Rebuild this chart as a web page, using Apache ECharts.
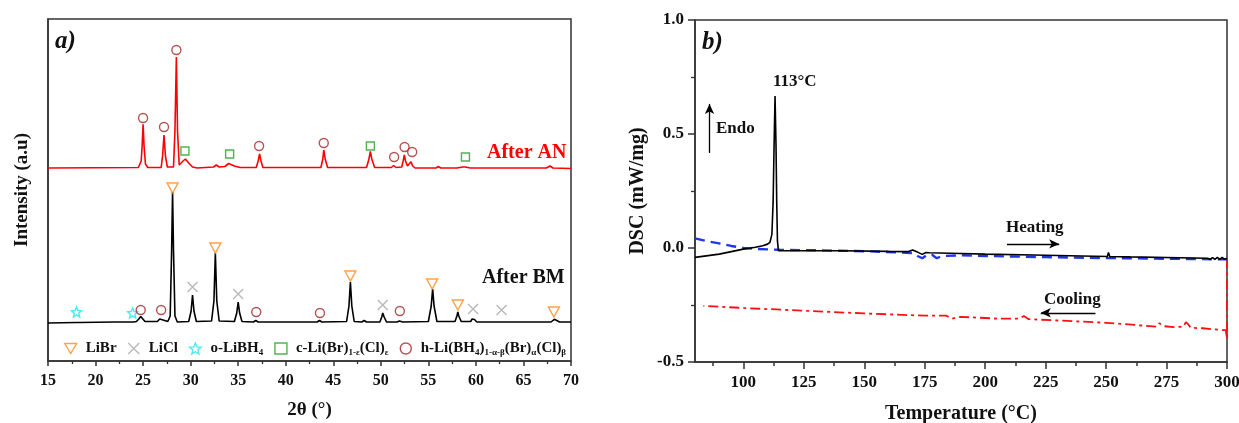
<!DOCTYPE html>
<html><head><meta charset="utf-8">
<script src="https://cdn.jsdelivr.net/npm/echarts@6/dist/echarts.min.js"></script>
<style>html,body{margin:0;padding:0;background:#fff}#c{width:1239px;height:423px}</style>
</head><body><div id="c"></div>
<script>
// ---------- Panel a: XRD (2θ, intensity a.u.) ----------
const xrdBM = [[15,38],[18,38.5],[18.1,39.5],[18.3,38.5],[22,39],[24,39],[24.1,40],[24.3,39.5],[24.55,42],[24.75,44.5],[24.9,43],[25.2,39.5],[26.5,39.5],[26.75,42],[26.9,42.5],[27.1,41],[27.6,39.5],[27.85,45],[28.0,110],[28.1,169],[28.2,110],[28.35,45],[28.6,39],[29.8,39.5],[30.05,50],[30.2,66],[30.35,50],[30.6,39.5],[32.2,40],[32.45,60],[32.6,108],[32.75,60],[33.0,40],[34.6,39.5],[34.85,48],[35.0,59],[35.15,48],[35.4,39.5],[36.6,39],[36.85,40.5],[37.1,39],[43.3,39],[43.55,40.5],[43.8,39],[46.4,39.5],[46.65,55],[46.8,79],[46.95,55],[47.2,39.5],[48.0,39],[48.25,40.5],[48.5,39],[49.9,39],[50.1,44],[50.2,48],[50.35,44],[50.6,39],[51.7,39],[51.95,40],[52.3,39],[55.0,39.5],[55.3,55],[55.45,72],[55.6,55],[55.9,39.5],[57.8,39.5],[58.0,45],[58.1,49],[58.2,45],[58.45,39.5],[59.45,39.5],[59.6,42],[59.7,43],[59.85,41.5],[60.1,39],[62.4,39],[62.6,40.5],[62.8,39],[67.9,39],[68.1,41],[68.25,41.7],[68.45,40],[68.8,39],[70,39]];
const xrdAN = [[15,193],[24.5,193.5],[24.8,200],[24.9,215],[25.0,236.7],[25.1,215],[25.25,197],[25.5,193.5],[26.9,193.5],[27.05,205],[27.2,226],[27.35,205],[27.55,194],[28.2,194],[28.35,230],[28.5,304],[28.62,230],[28.8,196],[29.0,196],[29.2,200],[29.45,202],[29.8,198],[30.2,194],[30.7,193],[32.4,194],[32.7,196],[33.0,194],[33.6,194.5],[34.0,197.5],[34.2,197.5],[34.6,195],[35.2,193.5],[36.9,193.5],[37.1,200],[37.25,207],[37.4,200],[37.6,193.5],[43.7,193.5],[43.9,202],[44.0,211],[44.15,202],[44.4,193.5],[48.5,193.5],[48.75,202],[48.9,209.5],[49.05,202],[49.35,193.5],[51.1,193.5],[51.35,195.5],[51.6,193.5],[52.2,194],[52.35,200],[52.47,206],[52.6,200],[52.8,195],[53.0,195],[53.17,199.3],[53.35,195],[53.6,193],[55.8,193],[56.05,194.5],[56.3,193],[58.0,193],[58.6,194],[58.9,194],[59.4,193],[67.4,193],[67.8,195],[68.1,193],[70,192.5]];
// phase markers
const mkLiBr = [[28.1,173],[32.6,113],[46.8,85],[55.4,77],[58.1,56],[68.2,49]];
const mkLiCl = [[30.2,74],[35.0,67],[50.2,56],[59.7,52],[62.7,51]];
const mkLiBH4 = [[18.0,49],[23.9,48]];
const mkCubic = [[29.4,210],[34.1,207],[48.9,215],[58.9,204]];
const mkHex = [[24.75,51],[26.9,51],[36.9,49],[43.6,48],[52.0,50],[25.0,243],[27.2,234],[28.5,311],[37.2,215],[44.0,218],[51.4,204],[52.5,214],[53.3,209]];

// ---------- Panel b: DSC (°C, mW/mg) ----------
const dscHeating = [[80,-0.041],[90,-0.027],[100,-0.005],[105,0.003],[108,0.01],[110,0.017],[111,0.025],[111.8,0.06],[112.3,0.2],[112.7,0.45],[113.1,0.667],[113.5,0.45],[113.8,0.2],[114.1,0.03],[114.5,-0.012],[120,-0.012],[140,-0.012],[160,-0.015],[168,-0.016],[170,-0.009],[172,-0.018],[174,-0.028],[175.5,-0.02],[177,-0.021],[190,-0.024],[200,-0.027],[220,-0.031],[240,-0.035],[250.5,-0.037],[251,-0.02],[251.5,-0.037],[260,-0.039],[280,-0.043],[292,-0.045],[293,-0.05],[294,-0.042],[295,-0.05],[296,-0.041],[297,-0.05],[298,-0.041],[299,-0.05],[300,-0.045]];
const dscHeating2 = [[80,0.042],[85,0.03],[90,0.02],[95,0.009],[100,0.0],[105,-0.004],[110,-0.006],[115,-0.008],[130,-0.01],[150,-0.014],[165,-0.02],[170,-0.022],[172,-0.035],[174,-0.045],[176,-0.03],[178,-0.03],[180,-0.045],[182,-0.035],[190,-0.032],[200,-0.035],[225,-0.04],[250,-0.044],[275,-0.047],[300,-0.05]];
const dscCooling = [[300,-0.045],[300,-0.40],[299.5,-0.36],[298,-0.36],[290,-0.352],[285,-0.35],[284,-0.335],[283,-0.325],[282,-0.345],[278,-0.347],[274,-0.343],[272,-0.33],[271,-0.345],[265,-0.34],[250,-0.328],[230,-0.318],[218,-0.312],[216,-0.298],[214,-0.31],[205,-0.31],[200,-0.307],[190,-0.302],[186,-0.31],[184,-0.297],[175,-0.297],[150,-0.287],[125,-0.275],[100,-0.263],[83.5,-0.254]];
const dscTempLabels = [100,125,150,175,200,225,250,275,300];
const dscTempMinor = [87.5,112.5,137.5,162.5,187.5,212.5,237.5,262.5,287.5];

const FF = "'Liberation Serif','Times New Roman',serif";
const chart = echarts.init(document.getElementById('c'), null, {renderer:'canvas'});

const triDown = 'path://M0,0L12,0L6,10Z';
const cross = 'path://M0,0L10,10M10,0L0,10';
const star = 'path://M10,0L12.6,6.4L19.5,6.9L14.2,11.3L15.9,18.1L10,14.4L4.1,18.1L5.8,11.3L0.5,6.9L7.4,6.4Z';
const C = {libr:'#ff8a1e', licl:'#a8a8a8', lbh:'#19e6f0', cub:'#22a022', hex:'#a02828'};

function mk(name, data, symbol, size, color){
  return {type:'scatter', name, xAxisIndex:0, yAxisIndex:0, data, symbol, symbolSize:size,
    itemStyle:{color:'rgba(0,0,0,0)', borderColor:color, borderWidth:1.4}, z:5, silent:true};
}
const legendNames = {
  'LiBr':'{n|LiBr}',
  'LiCl':'{n|LiCl}',
  'o-LiBH4':'{n|o-LiBH}{s|4}',
  'c':'{n|c-Li(Br)}{s|1-ε}{n|(Cl)}{s|ε}',
  'h':'{n|h-Li(BH}{s|4}{n|)}{s|1-α-β}{n|(Br)}{s|α}{n|(Cl)}{s|β}'
};

const axisLineStyle = {color:'#333', width:1.5};
const option = {
  animation:false,
  backgroundColor:'#fff',
  grid:[
    {left:48, top:19, width:523, height:342, show:true, borderColor:'#333', borderWidth:1.5, containLabel:false, outerBoundsMode:'none'},
    {left:695, top:20, width:532, height:342, show:true, borderColor:'#333', borderWidth:1.5, containLabel:false, outerBoundsMode:'none'}
  ],
  legend:{
    left:64, top:341, padding:0, itemWidth:12, itemHeight:11, itemGap:11, selectedMode:false,
    data:[
      {name:'LiBr', icon:triDown, itemStyle:{color:'rgba(0,0,0,0)', borderColor:C.libr, borderWidth:1.4}},
      {name:'LiCl', icon:cross, itemStyle:{color:'rgba(0,0,0,0)', borderColor:C.licl, borderWidth:1.4}},
      {name:'o-LiBH4', icon:star, itemStyle:{color:'rgba(0,0,0,0)', borderColor:C.lbh, borderWidth:1.4}},
      {name:'c', icon:'rect', itemStyle:{color:'rgba(0,0,0,0)', borderColor:C.cub, borderWidth:1.4}},
      {name:'h', icon:'circle', itemStyle:{color:'rgba(0,0,0,0)', borderColor:C.hex, borderWidth:1.4}}
    ],
    formatter:n=>legendNames[n],
    textStyle:{padding:[0,0,0,4], rich:{
      n:{fontFamily:FF, fontWeight:'bold', fontSize:15, color:'#111'},
      s:{fontFamily:FF, fontWeight:'bold', fontSize:9, color:'#111', padding:[9,0,0,0]}
    }}
  },
  xAxis:[
    {gridIndex:0, type:'value', min:15, max:70, interval:5, position:'bottom',
      axisLine:{show:true, lineStyle:axisLineStyle},
      axisTick:{show:true, inside:false, length:5, lineStyle:axisLineStyle},
      minorTick:{show:true, splitNumber:2, length:3, lineStyle:{color:'#333', width:1.3}},
      splitLine:{show:false}, minorSplitLine:{show:false},
      axisLabel:{fontFamily:FF, fontWeight:'bold', fontSize:16, color:'#111', margin:12},
      name:'2θ (°)', nameLocation:'middle', nameGap:40,
      nameTextStyle:{fontFamily:FF, fontWeight:'bold', fontSize:19, color:'#111'}},
    {gridIndex:1, type:'value', min:80, max:300, position:'bottom',
      axisLine:{show:true, onZero:false, lineStyle:axisLineStyle},
      axisTick:{show:true, inside:false, length:7, customValues:dscTempLabels, lineStyle:axisLineStyle},
      splitLine:{show:false},
      axisLabel:{customValues:dscTempLabels, fontFamily:FF, fontWeight:'bold', fontSize:17, color:'#111', margin:12},
      name:'Temperature (°C)', nameLocation:'middle', nameGap:42,
      nameTextStyle:{fontFamily:FF, fontWeight:'bold', fontSize:20, color:'#111'}},
    {gridIndex:1, type:'value', min:80, max:300, position:'bottom',
      axisLine:{show:false, onZero:false},
      axisTick:{show:true, inside:false, length:4, customValues:dscTempMinor, lineStyle:axisLineStyle},
      splitLine:{show:false},
      axisLabel:{show:false, customValues:dscTempMinor}}
  ],
  yAxis:[
    {gridIndex:0, type:'value', min:0, max:342,
      axisLine:{show:true, lineStyle:axisLineStyle}, axisTick:{show:false}, axisLabel:{show:false}, splitLine:{show:false},
      name:'Intensity (a.u)', nameLocation:'middle', nameGap:16,
      nameTextStyle:{fontFamily:FF, fontWeight:'bold', fontSize:19, color:'#111'}},
    {gridIndex:1, type:'value', min:-0.5, max:1.0, interval:0.5,
      axisLine:{show:true, onZero:false, lineStyle:axisLineStyle},
      axisTick:{show:true, inside:false, length:7, lineStyle:axisLineStyle},
      minorTick:{show:true, splitNumber:2, length:4, lineStyle:{color:'#333', width:1.3}},
      splitLine:{show:false}, minorSplitLine:{show:false},
      axisLabel:{fontFamily:FF, fontWeight:'bold', fontSize:17, color:'#111', margin:11, formatter:v=>v.toFixed(1)},
      name:'DSC (mW/mg)', nameLocation:'middle', nameGap:47,
      nameTextStyle:{fontFamily:FF, fontWeight:'bold', fontSize:20, color:'#111'}}
  ],
  series:[
    {type:'line', name:'After BM', xAxisIndex:0, yAxisIndex:0, data:xrdBM, symbol:'none', lineStyle:{color:'#000', width:1.6}, silent:true},
    {type:'line', name:'After AN', xAxisIndex:0, yAxisIndex:0, data:xrdAN, symbol:'none', lineStyle:{color:'#ff0000', width:1.6}, silent:true},
    mk('LiBr', mkLiBr, triDown, [11,10], C.libr),
    mk('LiCl', mkLiCl, cross, [10,10], C.licl),
    mk('o-LiBH4', mkLiBH4, star, [10,10], C.lbh),
    mk('c', mkCubic, 'rect', [8,8], C.cub),
    mk('h', mkHex, 'circle', [9,9], C.hex),
    {type:'line', name:'Cooling', xAxisIndex:1, yAxisIndex:1, data:dscCooling, symbol:'none',
      lineStyle:{color:'#ff1010', width:1.8, type:[10,4,3,4]}, silent:true},
    {type:'line', name:'Heating2', xAxisIndex:1, yAxisIndex:1, data:dscHeating2, symbol:'none',
      lineStyle:{color:'#1f35f0', width:2.4, type:[10,6]}, silent:true},
    {type:'line', name:'Heating', xAxisIndex:1, yAxisIndex:1, data:dscHeating, symbol:'none',
      lineStyle:{color:'#000', width:1.6}, silent:true, z:4,
      markLine:{silent:true, symbol:['none','arrow'], symbolSize:[7,10], label:{show:false},
        lineStyle:{color:'#000', width:1.3, type:'solid'},
        data:[
          [{coord:[86,0.417]},{coord:[86,0.632]}],
          [{coord:[209,0.018]},{coord:[230.6,0.018]}],
          [{coord:[245.6,-0.284]},{coord:[223,-0.284]}]
        ]}}
  ],
  graphic:[
    {type:'text', left:55, top:29, style:{text:'a)', font:"italic bold 25px "+FF, fill:'#111'}},
    {type:'text', left:702, top:30, style:{text:'b)', font:"italic bold 25px "+FF, fill:'#111'}},
    {type:'text', left:487, top:143, style:{text:'After AN', font:"bold 20px "+FF, fill:'#ff0000'}},
    {type:'text', left:482, top:268, style:{text:'After BM', font:"bold 20px "+FF, fill:'#111'}},
    {type:'text', left:773, top:73, style:{text:'113°C', font:"bold 17px "+FF, fill:'#111'}},
    {type:'text', left:716, top:120, style:{text:'Endo', font:"bold 17px "+FF, fill:'#111'}},
    {type:'text', left:1006, top:219, style:{text:'Heating', font:"bold 17px "+FF, fill:'#111'}},
    {type:'text', left:1044, top:291, style:{text:'Cooling', font:"bold 17px "+FF, fill:'#111'}}
  ]
};
chart.setOption(option);
</script></body></html>
